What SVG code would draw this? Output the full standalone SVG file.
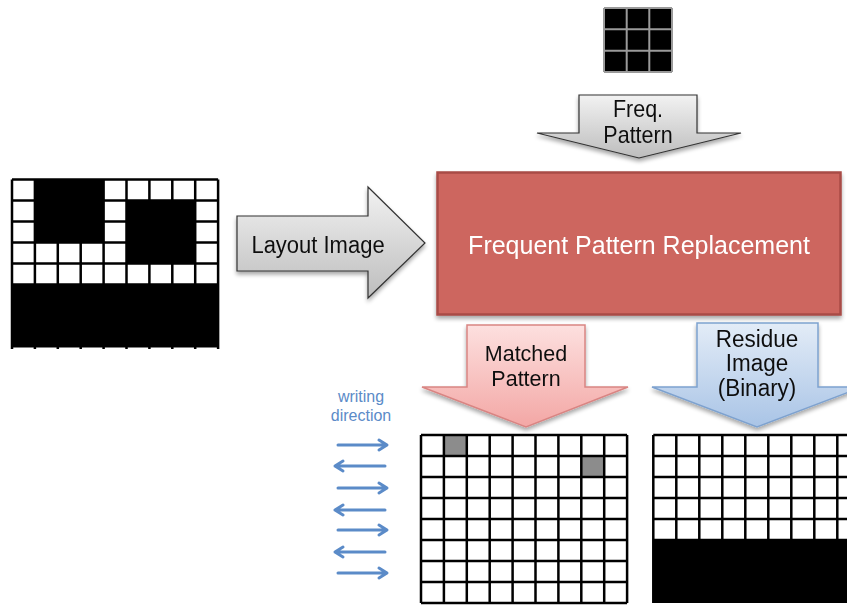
<svg xmlns="http://www.w3.org/2000/svg" width="847" height="605" viewBox="0 0 847 605">
  <defs>
    <linearGradient id="grayFill" x1="0" y1="0" x2="0" y2="1">
      <stop offset="0" stop-color="#f2f2f2"/>
      <stop offset="1" stop-color="#bdbdbd"/>
    </linearGradient>
    <linearGradient id="pinkFill" x1="0" y1="0" x2="0" y2="1">
      <stop offset="0" stop-color="#fde0df"/>
      <stop offset="1" stop-color="#f3a7a5"/>
    </linearGradient>
    <linearGradient id="blueFill" x1="0" y1="0" x2="0" y2="1">
      <stop offset="0" stop-color="#e3ecf7"/>
      <stop offset="1" stop-color="#a9c4e6"/>
    </linearGradient>
    <filter id="shadow" x="-10%" y="-10%" width="130%" height="140%">
      <feGaussianBlur in="SourceAlpha" stdDeviation="2"/>
      <feOffset dx="0" dy="3" result="b"/>
      <feComponentTransfer><feFuncA type="linear" slope="0.35"/></feComponentTransfer>
      <feMerge><feMergeNode/><feMergeNode in="SourceGraphic"/></feMerge>
    </filter>
    <style>
      .lbl { font-family: "Liberation Sans", Arial, sans-serif; fill: #111; text-anchor: middle; }
      .note { font-family: "Liberation Sans", Arial, sans-serif; fill: #5b8bc8; text-anchor: middle; font-size: 16px; }
      .grid { fill: none; stroke: #000; stroke-width: 2.5; }
      .blk { fill: #000; }
      .dir { fill: none; stroke: #5b8bc8; stroke-width: 3; stroke-linecap: round; stroke-linejoin: round; }
    </style>
  </defs>

  <rect width="847" height="605" fill="#fff"/>

  <!-- input layout image: 9 x 8 cells -->
  <g id="layout-image">
    <rect x="12" y="179.5" width="206" height="168" fill="#fff"/>
    <rect class="blk" x="34.9" y="179.5" width="68.7" height="63"/>
    <rect class="blk" x="126.5" y="200.5" width="68.7" height="63"/>
    <rect class="blk" x="12" y="284.5" width="206" height="63"/>
    <path class="grid" d="M12 179.5V349M34.9 179.5V349M57.8 179.5V349M80.7 179.5V349M103.6 179.5V349M126.5 179.5V349M149.4 179.5V349M172.3 179.5V349M195.2 179.5V349M218.1 179.5V349
      M12 179.5H218.1M12 200.5H218.1M12 221.5H218.1M12 242.5H218.1M12 263.5H218.1M12 284.5H218.1"/>
  </g>

  <!-- 3 x 3 frequent pattern -->
  <g id="freq-pattern-grid">
    <rect x="604" y="8" width="68" height="64" fill="#000"/>
    <path d="M604 8V72M626.7 8V72M649.3 8V72M672 8V72M604 8H672M604 29.3H672M604 50.7H672M604 72H672" fill="none" stroke="#9a9a9a" stroke-width="2"/>
  </g>

  <g id="freq-pattern-arrow" filter="url(#shadow)">
    <polygon points="579,95 697,95 697,133 741,133 639,158 537,133 579,133" fill="url(#grayFill)" stroke="#333" stroke-width="1.2"/>
    <text class="lbl" transform="translate(638 117) scale(1 1.07)" font-size="21.5">Freq.</text>
    <text class="lbl" transform="translate(638 143) scale(1 1.07)" font-size="21.5">Pattern</text>
  </g>

  <g id="layout-arrow" filter="url(#shadow)">
    <polygon points="237,216 368,216 368,187 425,243 368,298 368,271 237,271" fill="url(#grayFill)" stroke="#333" stroke-width="1.2"/>
    <text class="lbl" transform="translate(318 253) scale(1 1.07)" font-size="22">Layout Image</text>
  </g>

  <g id="replacement" filter="url(#shadow)">
    <rect x="437.5" y="172.5" width="403" height="142" fill="#cd665f" stroke="#a84b46" stroke-width="2.5"/>
    <text class="lbl" transform="translate(639 254) scale(1 1.05)" font-size="25" style="fill:#fff">Frequent Pattern Replacement</text>
  </g>

  <g id="matched-arrow" filter="url(#shadow)">
    <polygon points="467,325 585,325 585,387 628,387 526,427 422,387 467,387" fill="url(#pinkFill)" stroke="#d98583" stroke-width="1.5"/>
    <text class="lbl" transform="translate(526 361) scale(1 1.05)" font-size="21.5">Matched</text>
    <text class="lbl" transform="translate(526 386) scale(1 1.05)" font-size="21.5">Pattern</text>
  </g>

  <g id="residue-arrow" filter="url(#shadow)">
    <polygon points="697,323 818,323 818,387 862,387 757,427 652,387 697,387" fill="url(#blueFill)" stroke="#7ea2cf" stroke-width="1.5"/>
    <text class="lbl" transform="translate(757 347) scale(1 1.05)" font-size="22.5">Residue</text>
    <text class="lbl" transform="translate(757 371) scale(1 1.05)" font-size="22.5">Image</text>
    <text class="lbl" transform="translate(757 396) scale(1 1.05)" font-size="22.5">(Binary)</text>
  </g>

  <!-- matched pattern positions -->
  <g id="matched-grid">
    <rect x="421" y="435" width="206" height="168" fill="#fff"/>
    <rect x="443.9" y="435" width="22.9" height="21" fill="#8c8c8c"/>
    <rect x="581.3" y="456" width="22.9" height="21" fill="#8c8c8c"/>
    <path class="grid" d="M421 435V603M443.9 435V603M466.8 435V603M489.7 435V603M512.6 435V603M535.5 435V603M558.4 435V603M581.3 435V603M604.2 435V603M627.1 435V603
      M421 435H627.1M421 456H627.1M421 477H627.1M421 498H627.1M421 519H627.1M421 540H627.1M421 561H627.1M421 582H627.1M421 603H627.1"/>
  </g>

  <!-- residue binary image -->
  <g id="residue-grid">
    <rect x="653.3" y="435" width="207" height="168" fill="#fff"/>
    <rect class="blk" x="653.3" y="540" width="207" height="63"/>
    <path class="grid" d="M653.3 435V603M676.3 435V540M699.3 435V540M722.3 435V540M745.3 435V540M768.3 435V540M791.3 435V540M814.3 435V540M837.3 435V540
      M653.3 435H860M653.3 456H860M653.3 477H860M653.3 498H860M653.3 519H860M653.3 540H860"/>
  </g>

  <g id="writing-direction">
    <text class="note" transform="translate(361 402) scale(1 1.05)">writing</text>
    <text class="note" transform="translate(361 421) scale(1 1.05)">direction</text>
  </g>

  <!-- boustrophedon scan arrows -->
  <g id="connectors">
    <path class="dir" d="M338 445H386M379 440L387 445L379 450"/>
    <path class="dir" d="M335 466H385M343 461L335 466L343 471"/>
    <path class="dir" d="M338 488H386M379 483L387 488L379 493"/>
    <path class="dir" d="M335 510H385M343 505L335 510L343 515"/>
    <path class="dir" d="M338 530H386M379 525L387 530L379 535"/>
    <path class="dir" d="M335 552H385M343 547L335 552L343 557"/>
    <path class="dir" d="M338 573H386M379 568L387 573L379 578"/>
  </g>
</svg>
